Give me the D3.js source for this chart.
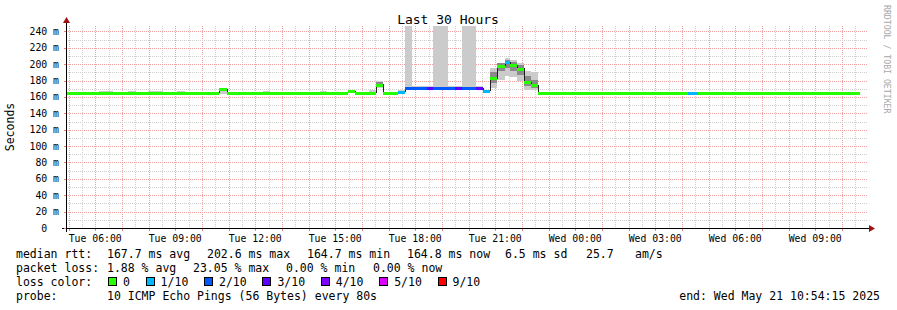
<!DOCTYPE html>
<html>
<head>
<meta charset="utf-8">
<script src="https://cdn.jsdelivr.net/npm/d3@7"></script>
<style>
body { margin: 0; background: #fff; }
text { font-family: "DejaVu Sans Mono", monospace; white-space: pre; }
</style>
</head>
<body>
<svg id="chart" width="897" height="310"></svg>
<script>
// time window of the graph
var startTime = "2025-05-20 04:54:15";
var endTime = "2025-05-21 10:54:15";
var dataEnd = "2025-05-21 10:40:00";

// step segments: start time, median rtt (ms), lost pings of 10, smoke range
var segTime = [
    "2025-05-20 04:54:15", "2025-05-20 06:08:00", "2025-05-20 06:40:00", "2025-05-20 07:13:00",
    "2025-05-20 07:32:00", "2025-05-20 07:58:00", "2025-05-20 08:32:00", "2025-05-20 09:04:00",
    "2025-05-20 09:22:00", "2025-05-20 10:38:00", "2025-05-20 10:56:00", "2025-05-20 12:17:00",
    "2025-05-20 12:33:00", "2025-05-20 14:25:00", "2025-05-20 14:41:00", "2025-05-20 15:28:00",
    "2025-05-20 15:44:00", "2025-05-20 16:16:00", "2025-05-20 16:32:00", "2025-05-20 16:47:00",
    "2025-05-20 17:21:00", "2025-05-20 17:37:00", "2025-05-20 17:52:00", "2025-05-20 18:26:00",
    "2025-05-20 18:40:00", "2025-05-20 19:13:00", "2025-05-20 19:29:00", "2025-05-20 19:45:00",
    "2025-05-20 20:16:00", "2025-05-20 20:32:00", "2025-05-20 20:48:00", "2025-05-20 21:04:00",
    "2025-05-20 21:22:00", "2025-05-20 21:33:00", "2025-05-20 21:49:00", "2025-05-20 22:05:00",
    "2025-05-20 22:20:00", "2025-05-20 22:36:00", "2025-05-21 04:13:00", "2025-05-21 04:36:00"
];
var median = [
    165, 165, 165, 165, 165, 165, 165, 165, 165, 169.5,
    165, 165, 165, 165, 165, 167, 165, 165, 175, 165,
    166.5, 170.5, 170.5, 170.5, 170.5, 170.5, 170.5, 170.5, 170.5, 167.5,
    183, 198, 202.6, 198.6, 194.5, 178, 174, 165, 165, 165
];
var loss = [
    0, 0, 0, 0, 0, 0, 0, 0, 0, 0,
    0, 0, 0, 0, 0, 0, 0, 0, 0, 0,
    1, 2, 2, 3, 2, 2, 3, 2, 3, 1,
    0, 0, 1, 0, 0, 0, 0, 0, 1, 0
];
var smokeLo = [
    164.5, 164.5, 164.5, 164.5, 164.5, 164.5, 164.5, 164.5, 164.5, 163.5,
    164.5, 164.5, 164.5, 164.5, 164.5, 165, 164.5, 164.5, 171, 164.5,
    164, 168, 168, 168, 168, 168, 168, 168, 168, 165,
    171, 181, 186, 184, 180, 169, 168, 164.5, 164.5, 164.5
];
var smokeHi = [
    166, 167.5, 166, 167.5, 166, 167.5, 166, 167.5, 166, 171.5,
    166, 167.5, 166, 167.5, 166, 168, 166, 168.5, 180, 166,
    168, 260, 173, 173, 260, 173, 173, 260, 173, 169,
    195, 202, 207, 205, 202, 192, 190, 166.5, 166, 166
];
var smokeInLo = [
    165, 165, 165, 165, 165, 165, 165, 165, 165, 167,
    165, 165, 165, 165, 165, 167, 165, 165, 173, 165,
    166, 169, 170, 170, 169, 170, 170, 169, 170, 167,
    177, 192, 195, 192, 187, 173, 171, 165, 165, 165
];
var smokeInHi = [
    165, 165, 165, 165, 165, 165, 165, 165, 165, 171,
    165, 165, 165, 165, 165, 167, 165, 166, 178, 165,
    167, 172, 171, 171, 172, 171, 171, 172, 171, 168,
    190, 201, 205, 203, 199, 185, 181, 165, 165, 165
];

var lossLevels = [0, 1, 2, 3, 4, 5, 9];
var lossLabels = ["0", "1/10", "2/10", "3/10", "4/10", "5/10", "9/10"];
var lossColors = ["#26ff00", "#00b8ff", "#0059ff", "#5e00ff", "#7e00ff", "#dd00ff", "#ff0000"];

var yTicks = [0, 20, 40, 60, 80, 100, 120, 140, 160, 180, 200, 220, 240];
var yTickLabels = ["0  ", "20 m", "40 m", "60 m", "80 m", "100 m", "120 m", "140 m", "160 m", "180 m", "200 m", "220 m", "240 m"];
var xTickTimes = ["2025-05-20 06:00:00", "2025-05-20 09:00:00", "2025-05-20 12:00:00", "2025-05-20 15:00:00",
    "2025-05-20 18:00:00", "2025-05-20 21:00:00", "2025-05-21 00:00:00", "2025-05-21 03:00:00",
    "2025-05-21 06:00:00", "2025-05-21 09:00:00"];

var statsRow = ["median rtt:", "167.7 ms avg", "202.6 ms max", "164.7 ms min", "164.8 ms now", "6.5 ms sd", "25.7", "am/s"];
var lossRow = ["packet loss:", "1.88 % avg", "23.05 % max", "0.00 % min", "0.00 % now"];
var probeText = "10 ICMP Echo Pings (56 Bytes) every 80s";
var endText = "end: Wed May 21 10:54:15 2025";

var parse = d3.timeParse("%Y-%m-%d %H:%M:%S");
var svg = d3.select("#chart");
var plotL = 66, plotR = 866, plotT = 26, plotB = 228;

var x = d3.scaleTime().domain([parse(startTime), parse(endTime)]).range([plotL, plotR]);
var y = d3.scaleLinear().domain([0, 246.6]).range([plotB, plotT]);

svg.append("rect").attr("width", 897).attr("height", 310).attr("fill", "#fff");

svg.append("clipPath").attr("id", "plot")
    .append("rect").attr("x", plotL).attr("y", plotT).attr("width", plotR - plotL).attr("height", plotB - plotT);

// grid
var grid = svg.append("g").attr("shape-rendering", "crispEdges");
var halfHours = d3.timeMinute.every(30).range(parse(startTime), parse(endTime));
halfHours.forEach(function (t) {
    var major = t.getMinutes() == 0;
    grid.append("line")
        .attr("x1", Math.round(x(t)) + 0.5).attr("x2", Math.round(x(t)) + 0.5)
        .attr("y1", plotT).attr("y2", plotB)
        .attr("stroke", major ? "#f0a0a0" : "#cfcfcf")
        .attr("stroke-dasharray", "1,1");
});
d3.range(10, 250, 10).forEach(function (v) {
    var major = v % 20 == 0;
    grid.append("line")
        .attr("x1", plotL).attr("x2", plotR + 2)
        .attr("y1", Math.round(y(v)) + 0.5).attr("y2", Math.round(y(v)) + 0.5)
        .attr("stroke", major ? "#f0a0a0" : "#cfcfcf")
        .attr("stroke-dasharray", "1,1");
});

// smoke and median
var plot = svg.append("g").attr("clip-path", "url(#plot)").attr("shape-rendering", "crispEdges");
var segs = segTime.map(function (s, i) {
    return {
        x0: Math.round(x(parse(s))),
        x1: Math.round(x(parse(i + 1 < segTime.length ? segTime[i + 1] : dataEnd))),
        med: median[i], loss: loss[i],
        lo: smokeLo[i], hi: smokeHi[i], inLo: smokeInLo[i], inHi: smokeInHi[i]
    };
});

plot.selectAll("rect.smoke").data(segs).enter().append("rect")
    .attr("class", "smoke")
    .attr("x", function (d) { return d.x0; })
    .attr("width", function (d) { return d.x1 - d.x0; })
    .attr("y", function (d) { return y(d.hi); })
    .attr("height", function (d) { return y(d.lo) - y(d.hi); })
    .attr("fill", "#cbcbcb");

plot.selectAll("rect.inner").data(segs).enter().append("rect")
    .attr("class", "inner")
    .attr("x", function (d) { return d.x0; })
    .attr("width", function (d) { return d.x1 - d.x0; })
    .attr("y", function (d) { return y(d.inHi); })
    .attr("height", function (d) { return Math.max(0, y(d.inLo) - y(d.inHi)); })
    .attr("fill", "#8a8a8a");

var pts = segs.map(function (d) { return [d.x0, y(d.med)]; });
pts.push([segs[segs.length - 1].x1, y(median[median.length - 1])]);
plot.append("path")
    .attr("d", d3.line().curve(d3.curveStepAfter)(pts))
    .attr("fill", "none").attr("stroke", "#202020").attr("stroke-width", 1);

plot.selectAll("rect.med").data(segs).enter().append("rect")
    .attr("class", "med")
    .attr("x", function (d) { return d.x0; })
    .attr("width", function (d) { return d.x1 - d.x0; })
    .attr("y", function (d) { return Math.round(y(d.med)) - 1; })
    .attr("height", 3)
    .attr("fill", function (d) { return lossColors[lossLevels.indexOf(d.loss)]; });

// axes
var axes = svg.append("g").attr("shape-rendering", "crispEdges");
axes.append("line").attr("x1", plotL - 4).attr("x2", plotR + 4)
    .attr("y1", plotB + 0.5).attr("y2", plotB + 0.5).attr("stroke", "#000");
axes.append("line").attr("x1", plotL + 0.5).attr("x2", plotL + 0.5)
    .attr("y1", plotB + 4).attr("y2", plotT - 4).attr("stroke", "#000");
svg.append("path").attr("d", "M" + (plotR + 3) + "," + (plotB - 3) + "L" + (plotR + 9) + "," + (plotB + 0.5) + "L" + (plotR + 3) + "," + (plotB + 4) + "Z")
    .attr("fill", "#a01010");
svg.append("path").attr("d", "M" + (plotL - 3) + "," + (plotT - 3) + "L" + (plotL + 0.5) + "," + (plotT - 9) + "L" + (plotL + 4) + "," + (plotT - 3) + "Z")
    .attr("fill", "#a01010");

d3.timeHour.every(1).range(parse(startTime), parse(endTime)).forEach(function (t) {
    axes.append("line")
        .attr("x1", Math.round(x(t)) + 0.5).attr("x2", Math.round(x(t)) + 0.5)
        .attr("y1", plotB + 1).attr("y2", plotB + 3).attr("stroke", "#f08080");
});
yTicks.forEach(function (v) {
    axes.append("line").attr("x1", plotL - 2).attr("x2", plotL)
        .attr("y1", Math.round(y(v)) + 0.5).attr("y2", Math.round(y(v)) + 0.5).attr("stroke", "#f08080");
});

svg.selectAll("text.ytick").data(yTicks).enter().append("text")
    .attr("class", "ytick")
    .attr("x", 59).attr("y", function (d) { return y(d) + 3.5; })
    .attr("text-anchor", "end").attr("font-size", "9.8px").attr("fill", "#000")
    .text(function (d, i) { return yTickLabels[i]; });

var fmtTick = d3.timeFormat("%a %H:%M");
svg.selectAll("text.xtick").data(xTickTimes).enter().append("text")
    .attr("class", "xtick")
    .attr("x", function (d) { return x(parse(d)); }).attr("y", 241.5)
    .attr("text-anchor", "middle").attr("font-size", "9.8px").attr("fill", "#000")
    .text(function (d) { return fmtTick(parse(d)); });

// titles
svg.append("text").attr("x", 448).attr("y", 24).attr("text-anchor", "middle")
    .attr("font-size", "13px").text("Last 30 Hours");
svg.append("text").attr("transform", "translate(14,127) rotate(-90)").attr("text-anchor", "middle")
    .attr("font-size", "11.5px").text("Seconds");
svg.append("text").attr("transform", "translate(884,5) rotate(90)")
    .attr("font-size", "8.2px").attr("fill", "#a8a8a8").text("RRDTOOL / TOBI OETIKER");

// legend
var fs = "11.5px", charW = 6.92;
var statsX = [16, 107, 207, 307, 407, 505, 586, 635];
statsRow.forEach(function (s, i) {
    svg.append("text").attr("x", statsX[i]).attr("y", 258).attr("font-size", fs).text(s);
});
var lossX = [16, 107, 193, 286, 373];
lossRow.forEach(function (s, i) {
    svg.append("text").attr("x", lossX[i]).attr("y", 272).attr("font-size", fs).text(s);
});
svg.append("text").attr("x", 16).attr("y", 286).attr("font-size", fs).text("loss color:");
var bx = 108;
lossLabels.forEach(function (s, i) {
    svg.append("rect").attr("x", Math.round(bx) + 0.5).attr("y", 277.5).attr("width", 8).attr("height", 8)
        .attr("fill", lossColors[i]).attr("stroke", "#000").attr("shape-rendering", "crispEdges");
    svg.append("text").attr("x", bx + 15).attr("y", 286).attr("font-size", fs).text(s);
    bx = bx + 15 + s.length * charW + 15.7;
});
svg.append("text").attr("x", 16).attr("y", 300).attr("font-size", fs).text("probe:");
svg.append("text").attr("x", 107).attr("y", 300).attr("font-size", fs).text(probeText);
svg.append("text").attr("x", 880).attr("y", 300).attr("text-anchor", "end").attr("font-size", fs).text(endText);
</script>
</body>
</html>
